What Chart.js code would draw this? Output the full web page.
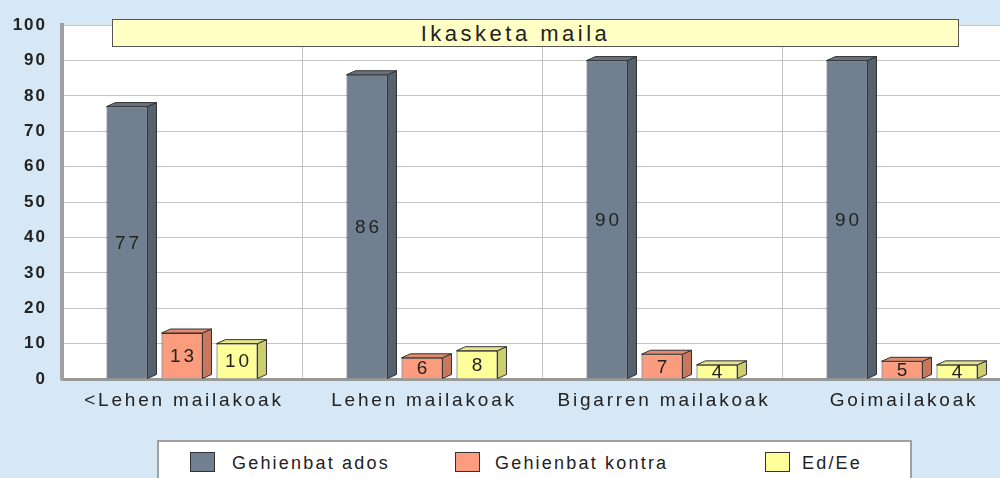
<!DOCTYPE html>
<html>
<head>
<meta charset="utf-8">
<script src="https://cdn.jsdelivr.net/npm/chart.js@4"></script>
<style>
  html, body { margin: 0; padding: 0; overflow: hidden; background: #d6e7f5; }
  #wrap { position: relative; width: 1000px; height: 478px; overflow: hidden; font-family: "Liberation Sans", Arial, sans-serif; }
  #chartBox { position: absolute; left: 0; top: 0; width: 1030px; height: 478px; }
  #title {
    position: absolute; left: 112px; top: 19px; width: 805px; height: 26px; padding-right: 40px;
    background: #ffffc6; border: 1px solid #555; text-align: center;
    font-size: 22px; line-height: 27px; color: #222; letter-spacing: 3.5px;
  }
  #legend {
    position: absolute; left: 157px; top: 440px; width: 751px; height: 50px;
    background: #fff; border: 2px solid #a0a0a0;
  }
  .swatch { position: absolute; top: 10px; width: 23px; height: 18px; border: 1px solid #333; }
  .label { position: absolute; top: 11px; white-space: nowrap; font-size: 18px; line-height: 21px; color: #222; letter-spacing: 2.2px; }
</style>
</head>
<body>
<div id="wrap">
  <div id="chartBox"><canvas id="chart" width="1030" height="478"></canvas></div>
  <div id="title">Ikasketa maila</div>
  <div id="legend"></div>
</div>
<script>
// Chart data
const categories = ['<Lehen mailakoak', 'Lehen mailakoak', 'Bigarren mailakoak', 'Goimailakoak'];
const seriesNames = ['Gehienbat ados', 'Gehienbat kontra', 'Ed/Ee'];
const adosValues = [77, 86, 90, 90];
const kontraValues = [13, 6, 7, 5];
const edEeValues = [10, 8, 4, 4];
const yTicks = [0, 10, 20, 30, 40, 50, 60, 70, 80, 90, 100];

const fronts = ['#708090', '#fa9c7d', '#ffff99'];
const sides = ['#56636f', '#c9785d', '#cccc70'];
const tops = ['#65737f', '#e08a6e', '#e6e688'];
const FONT = '"Liberation Sans", Arial, sans-serif';

// white plot wall + letter spacing for the axis text
const plotBg = {
    id: 'plotBg',
    beforeDraw(chart) {
        const { ctx, chartArea } = chart;
        ctx.save();
        ctx.fillStyle = '#fff';
        ctx.fillRect(chartArea.left, chartArea.top, chartArea.right - chartArea.left, chartArea.bottom - chartArea.top);
        ctx.restore();
        ctx.letterSpacing = '2px';
    },
    afterDraw(chart) {
        // category labels, spaced out like the original
        const ctx = chart.ctx;
        const xs = chart.scales.x;
        ctx.save();
        ctx.letterSpacing = '2.8px';
        ctx.fillStyle = '#222';
        ctx.font = '19px ' + FONT;
        ctx.textAlign = 'center';
        ctx.textBaseline = 'alphabetic';
        categories.forEach((c, i) => {
            ctx.fillText(c, xs.getPixelForTick(i) + 2, chart.chartArea.bottom + 27);
        });
        ctx.restore();
    }
};

// Draws the side / top faces of each bar and the value label
const bar3d = {
    id: 'bar3d',
    afterDatasetsDraw(chart) {
        const ctx = chart.ctx;
        const dx = 9, dy = 4;
        chart.data.datasets.forEach((ds, di) => {
            const meta = chart.getDatasetMeta(di);
            meta.data.forEach((bar, i) => {
                const l = bar.x - bar.width / 2;
                const r = bar.x + bar.width / 2;
                const t = bar.y;
                const b = bar.base;
                ctx.save();
                ctx.strokeStyle = '#333';
                ctx.lineWidth = 1;
                // side
                ctx.beginPath();
                ctx.moveTo(r, b);
                ctx.lineTo(r + dx, b - dy);
                ctx.lineTo(r + dx, t - dy);
                ctx.lineTo(r, t);
                ctx.closePath();
                ctx.fillStyle = sides[di];
                ctx.fill();
                ctx.stroke();
                // top
                ctx.beginPath();
                ctx.moveTo(l, t);
                ctx.lineTo(l + dx, t - dy);
                ctx.lineTo(r + dx, t - dy);
                ctx.lineTo(r, t);
                ctx.closePath();
                ctx.fillStyle = tops[di];
                ctx.fill();
                ctx.stroke();
                // value
                ctx.letterSpacing = '3px';
                ctx.fillStyle = '#222';
                ctx.font = '19px ' + FONT;
                ctx.textAlign = 'center';
                ctx.textBaseline = 'middle';
                ctx.fillText(String(ds.data[i]), bar.x + 1.5, (t + b) / 2 + 1);
                ctx.restore();
            });
        });
    }
};

const datasets = [adosValues, kontraValues, edEeValues].map((vals, i) => ({
    label: seriesNames[i],
    data: vals,
    backgroundColor: fronts[i],
    borderColor: '#333',
    borderWidth: 1,
    barPercentage: 0.745,
    categoryPercentage: 0.6875
}));

new Chart(document.getElementById('chart'), {
    type: 'bar',
    data: { labels: categories, datasets: datasets },
    plugins: [plotBg, bar3d],
    options: {
        responsive: false,
        animation: false,
        layout: { padding: { top: 19, right: 8, left: 0, bottom: 0 } },
        plugins: {
            legend: { display: false },
            title: { display: false },
            tooltip: { enabled: false }
        },
        scales: {
            x: {
                grid: { color: '#c4c4c4', lineWidth: 1, drawTicks: false, offset: true },
                border: { color: '#999', width: 3 },
                ticks: { display: false },
                afterFit(scale) { scale.height = 99; }
            },
            y: {
                min: 0,
                max: 100,
                afterBuildTicks(scale) { scale.ticks = yTicks.map(v => ({ value: v })); },
                grid: { color: '#c4c4c4', lineWidth: 1, drawTicks: false },
                border: { color: '#a0a0a0', width: 4 },
                ticks: { color: '#222', font: { size: 17, weight: 'bold', family: FONT }, padding: 15 },
                afterFit(scale) { scale.width = 62; }
            }
        }
    }
});

// HTML legend
const legend = document.getElementById('legend');
const swatchX = [31, 296, 606];
const textX = [73, 336, 643];
seriesNames.forEach((name, i) => {
    const sw = document.createElement('div');
    sw.className = 'swatch';
    sw.style.left = swatchX[i] + 'px';
    sw.style.background = fronts[i];
    const lb = document.createElement('div');
    lb.className = 'label';
    lb.style.left = textX[i] + 'px';
    lb.textContent = name;
    legend.appendChild(sw);
    legend.appendChild(lb);
});
</script>
</body>
</html>
